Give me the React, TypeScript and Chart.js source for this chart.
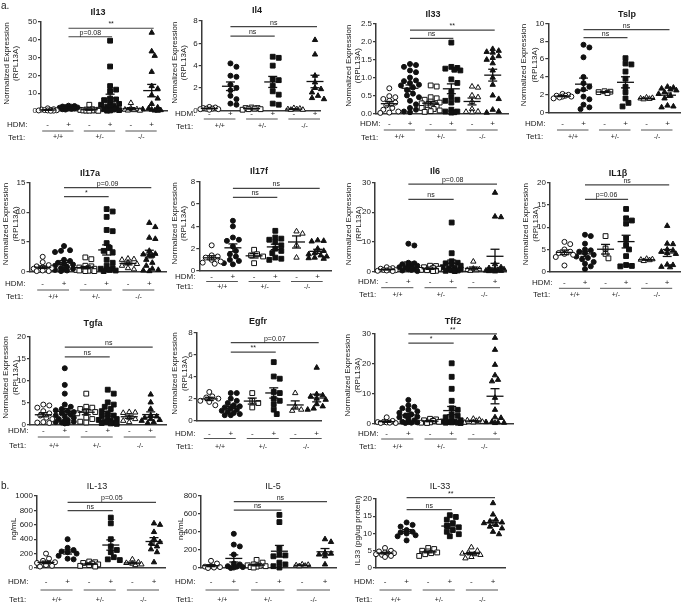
import React, { useEffect, useRef } from 'react';
import { Chart, registerables } from 'chart.js';

Chart.register(...registerables);

const FONT = '"Liberation Sans", Arial, Helvetica, sans-serif';

const HDM_LABELS = ['-', '+', '-', '+', '-', '+'];
const TET1_LABELS = ['+/+', '+/-', '-/-'];
const MARKERS = ['circle', 'circle', 'rect', 'rect', 'triangle', 'triangle'];
const FILLED = [false, true, false, true, false, true];
const NORM_LABEL = ['Normalized Expression', '(RPL13A)'];

// ---------- values per group: [+/+ -, +/+ +, +/- -, +/- +, -/- -, -/- +] ----------
const IL13_VALUES = [
  [1.5, 1.0, 0.8, 0.6, 0.5, 0.4, 0.3, 0.3, 0.2, 0.1],
  [3.0, 2.8, 2.5, 2.4, 2.2, 2.0, 1.8, 1.6, 1.5, 1.2, 1.0, 0.8],
  [3.5, 1.0, 0.8, 0.7, 0.6, 0.5, 0.4, 0.3, 0.3, 0.2, 0.2, 0.1],
  [39.5, 25, 14, 12, 11, 7, 6.5, 6, 5, 4, 3.5, 3, 2.5, 2, 1.5, 1, 0.8, 0.5, 0.3, 0.2],
  [4.5, 1.5, 1.0, 0.8, 0.5, 0.3, 0.2],
  [44, 33.5, 31, 22, 14, 12.5, 9, 7, 4, 2, 1.5, 1, 0.8, 0.5, 0.3, 0.2],
];
const IL4_VALUES = [
  [0.3, 0.25, 0.2, 0.15, 0.15, 0.1, 0.1, 0.05],
  [4.2, 3.9, 3.1, 3.0, 2.3, 2.0, 1.8, 1.3, 1.0, 0.6, 0.5],
  [0.25, 0.2, 0.2, 0.15, 0.1, 0.1, 0.05],
  [4.8, 4.7, 4.0, 2.8, 2.7, 2.2, 1.7, 1.4, 0.6, 0.5],
  [0.2, 0.15, 0.1, 0.1, 0.05, 0.05],
  [6.3, 5.0, 3.1, 2.5, 2.0, 1.9, 1.6, 1.3, 1.1, 1.0],
];
const IL33_VALUES = [
  [0.7, 0.48, 0.45, 0.4, 0.35, 0.3, 0.22, 0.15, 0.1, 0.05, 0.02, 0.01],
  [1.38, 1.35, 1.3, 1.2, 1.15, 1.0, 0.92, 0.9, 0.85, 0.8, 0.78, 0.72, 0.65, 0.55, 0.5, 0.45, 0.35, 0.25, 0.15, 0.1, 0.05, 0.03],
  [0.78, 0.75, 0.45, 0.42, 0.38, 0.33, 0.3, 0.28, 0.25, 0.22, 0.2, 0.18, 0.15, 0.12, 0.1, 0.08, 0.06, 0.04],
  [1.98, 1.3, 1.27, 1.25, 1.22, 1.2, 0.95, 0.85, 0.6, 0.45, 0.38, 0.35, 0.3, 0.1, 0.05, 0.05, 0.03, 0.02],
  [0.75, 0.72, 0.5, 0.45, 0.32, 0.12, 0.05, 0.04, 0.03],
  [1.8, 1.75, 1.72, 1.7, 1.6, 1.55, 1.5, 1.4, 1.2, 1.0, 0.8, 0.5, 0.4, 0.1, 0.05, 0.02],
];
const TSLP_VALUES = [
  [2.1, 2.0, 1.9, 1.9, 1.8, 1.8, 1.7, 1.6],
  [7.6, 7.3, 6.2, 4.0, 3.3, 2.9, 2.6, 2.4, 1.8, 1.5, 0.9, 0.6, 0.4],
  [2.4, 2.35, 2.3, 2.2],
  [6.1, 5.5, 5.4, 4.6, 3.8, 2.9, 2.3, 1.6, 1.1, 0.7],
  [1.7, 1.65, 1.6, 1.55, 1.5],
  [2.9, 2.8, 2.7, 2.6, 2.5, 2.3, 2.1, 1.9, 1.6, 0.8, 0.7, 0.6],
];
const IL17A_VALUES = [
  [2.5, 1.6, 1.1, 0.9, 0.7, 0.6, 0.5, 0.4, 0.3, 0.2, 0.1, 0.1],
  [4.3, 3.6, 3.5, 3.3, 2.0, 1.8, 1.5, 1.3, 1.2, 1.0, 0.8, 0.6, 0.5, 0.4, 0.3, 0.2, 0.1],
  [2.4, 2.1, 1.0, 0.9, 0.7, 0.6, 0.5, 0.45, 0.4, 0.3, 0.25, 0.2, 0.15, 0.1, 0.1],
  [10.5, 10.1, 9.2, 7.0, 6.8, 4.8, 4.0, 3.5, 3.2, 2.0, 1.5, 1.0, 0.6, 0.5, 0.4, 0.3, 0.2, 0.1],
  [2.2, 2.1, 2.0, 1.5, 1.3, 1.0, 0.6, 0.4],
  [8.2, 7.5, 5.7, 5.5, 3.5, 3.0, 2.9, 2.8, 2.7, 2.0, 1.5, 1.0, 0.5, 0.3, 0.2, 0.1],
];
const IL17F_VALUES = [
  [2.3, 1.4, 1.3, 1.2, 1.0, 0.85, 0.75, 0.65],
  [4.5, 4.0, 3.0, 2.8, 2.7, 2.2, 1.8, 1.5, 1.3, 1.0, 0.9, 0.7, 0.6],
  [1.9, 1.5, 1.4, 1.3, 0.7],
  [3.6, 3.0, 2.9, 2.8, 2.6, 2.3, 2.0, 1.8, 1.6, 1.2, 1.1, 1.0],
  [3.55, 3.35, 2.3, 1.2],
  [2.75, 2.7, 2.65, 2.0, 1.8, 1.6, 1.5, 1.4, 1.3, 1.2, 1.15, 1.1],
];
const IL6_VALUES = [
  [1.5, 1.2, 1.0, 0.8, 0.6, 0.5, 0.4, 0.3, 0.2],
  [9.4, 8.8, 3.0, 2.8, 2.5, 2.2, 2.0, 1.8, 1.5, 1.2, 1.0, 0.8, 0.6, 0.4, 0.2],
  [2.0, 1.9, 1.5, 1.2, 1.0, 0.8, 0.6, 0.5, 0.3, 0.2],
  [16.5, 6.2, 3.5, 3.0, 2.8, 2.5, 2.0, 1.5, 1.2, 1.0, 0.8, 0.5, 0.4, 0.3, 0.2],
  [3.4, 1.0, 0.8, 0.6, 0.5, 0.3],
  [26.5, 18.5, 18.3, 2.5, 1.5, 1.2, 1.0, 0.8, 0.6, 0.5, 0.4, 0.3, 0.2, 0.1],
];
const IL1B_VALUES = [
  [6.7, 6.2, 5.0, 4.5, 4.2, 4.0, 3.8, 3.3, 1.4],
  [8.3, 8.0, 6.3, 5.0, 4.8, 4.5, 4.2, 3.8, 3.4, 3.1, 2.8, 2.2, 1.8, 1.2, 0.6],
  [8.0, 5.2, 4.0, 3.0],
  [14.1, 12.0, 11.5, 10.8, 7.5, 6.0, 5.0, 3.5, 1.5, 1.3, 1.2],
  [2.9, 2.8, 2.7, 2.6, 2.4],
  [10.3, 6.3, 6.2, 5.0, 4.8, 4.5, 4.2, 4.0, 1.6, 1.5, 1.1, 1.0],
];
const TGFA_VALUES = [
  [4.5, 4.3, 3.8, 3.0, 2.5, 2.0, 1.5, 1.2, 0.5, 0.4, 0.3],
  [12.8, 9.0, 7.0, 4.5, 4.0, 3.5, 3.2, 3.0, 2.8, 2.5, 2.2, 2.0, 1.8, 1.5, 1.2, 1.0, 0.8, 0.6, 0.5, 0.4, 0.3, 0.2],
  [7.0, 4.0, 3.8, 3.5, 3.0, 2.8, 2.5, 1.5, 1.2, 0.6, 0.4],
  [7.9, 7.0, 5.0, 4.5, 4.0, 3.5, 3.0, 2.5, 2.0, 1.8, 1.5, 1.2, 1.0, 0.8, 0.6, 0.5, 0.3, 0.3, 0.2, 0.1],
  [2.8, 2.7, 2.6, 1.5, 1.2, 0.8, 0.5],
  [6.8, 5.0, 3.5, 2.0, 1.8, 1.5, 1.2, 1.0, 0.8, 0.5, 0.3],
];
const EGFR_VALUES = [
  [2.6, 2.2, 2.1, 2.0, 1.8, 1.7, 1.4],
  [2.5, 2.5, 2.0, 1.8, 1.6, 1.4, 1.3, 1.2, 1.1, 1.0, 0.9, 0.8, 0.7, 0.6, 0.5, 0.5],
  [2.5, 1.8, 1.6, 1.2],
  [5.3, 4.0, 3.8, 2.6, 2.5, 2.0, 1.8, 1.5, 1.0, 0.6],
  [2.5, 1.3, 1.0, 0.9],
  [4.8, 2.4, 2.3, 2.2, 2.0, 1.9, 1.5, 1.3, 1.1, 1.0],
];
const TFF2_VALUES = [
  [2.0, 0.8, 0.5, 0.4, 0.3, 0.2, 0.1, 0.1],
  [7.8, 6.0, 5.5, 5.0, 4.5, 4.0, 3.5, 3.0, 2.5, 2.2, 2.0, 1.5, 1.0, 0.5, 0.4, 0.3, 0.2, 0.1],
  [1.5, 1.3, 1.0, 0.8, 0.5, 0.3, 0.2, 0.1],
  [20, 15.5, 11.5, 7.5, 5.0, 4.5, 3.0, 2.5, 2.0, 1.5, 1.0, 0.6, 0.5, 0.4, 0.3, 0.2, 0.2, 0.1],
  [1.5, 1.2, 1.0, 0.8, 0.5, 0.3, 0.2],
  [28.5, 24.5, 19.5, 16, 14.5, 14, 8.5, 4.5, 2.0, 1.8, 0.5, 0.4, 0.3, 0.2, 0.1],
];
const PROT_IL13_VALUES = [
  [200, 130, 100, 80, 70, 60, 50, 40, 30, 20],
  [400, 280, 250, 230, 220, 200, 170, 130, 120],
  [90, 80, 70, 60, 50, 40, 30, 20],
  [700, 620, 400, 300, 250, 220, 150, 120, 110],
  [120, 80, 70, 60, 50, 40],
  [620, 600, 500, 400, 360, 340, 300, 260, 220, 80],
];
const PROT_IL5_VALUES = [
  [80, 50, 20, 15, 10, 5, 0],
  [380, 260, 240, 150, 50, 40, 20, 15, 10, 5, 0],
  [90, 60, 40, 30, 25, 20, 15, 10, 5],
  [590, 510, 220, 150, 140, 130, 60, 40, 20, 5],
  [40, 35, 30, 25, 20],
  [320, 290, 170, 160, 150, 130, 40],
];
const PROT_IL33_VALUES = [
  [5.8, 5.0, 4.8, 4.5, 4.3, 4.2, 4.0, 3.8, 3.5, 3.2],
  [13.2, 12.5, 12.0, 11.0, 10.5, 10.3, 10.0, 9.5, 9.2, 8.0],
  [5.8, 5.5, 5.0, 4.8, 4.5, 4.3, 4.0, 3.5],
  [15.3, 14.8, 14.0, 13.0, 12.2, 11.8, 11.0, 10.5, 9.8, 9.2],
  [6.0, 5.0, 4.5, 4.2, 4.0, 3.8, 3.2, 2.8],
  [18.8, 15.5, 14.0, 13.5, 13.2, 13.0, 12.5, 12.0, 11.5, 10.5, 9.8],
];

// ---------- significance brackets: [fromGroup, toGroup, value, label] ----------
const IL13_SIG = [[1, 3, 41.7, 'p=0.08'], [1, 5, 46.5, '**']];
const IL4_SIG = [[1, 3, 6.65, 'ns'], [1, 5, 7.5, 'ns']];
const IL33_SIG = [[1, 3, 2.1, 'ns'], [1, 5, 2.33, '**']];
const TSLP_SIG = [[1, 3, 8.4, 'ns'], [1, 5, 9.3, 'ns']];
const IL17A_SIG = [[1, 3, 12.6, '*'], [1, 5, 14.1, 'p=0.09']];
const IL17F_SIG = [[1, 3, 6.6, 'ns'], [1, 5, 7.4, 'ns']];
const IL6_SIG = [[1, 3, 24.3, 'ns'], [1, 5, 29.4, 'p=0.08']];
const IL1B_SIG = [[1, 3, 16.25, 'p=0.06'], [1, 5, 19.5, 'ns']];
const TGFA_SIG = [[1, 3, 15.4, 'ns'], [1, 5, 17.6, 'ns']];
const EGFR_SIG = [[1, 3, 6.2, '**'], [1, 5, 7.07, 'p=0.07']];
const TFF2_SIG = [[1, 3, 26.7, '*'], [1, 5, 29.8, '**']];
const PROT_IL13_SIG = [[1, 3, 798, 'ns'], [1, 5, 912, 'p=0.05']];
const PROT_IL5_SIG = [[1, 3, 642, 'ns'], [1, 5, 737, 'ns']];
const PROT_IL33_SIG = [[1, 3, 16.9, 'ns'], [1, 5, 20.4, '**']];

// ---------- panel layout (page pixels) ----------
const PANELS = [
  { title: 'Il13', bold: true, data: IL13_VALUES, sig: IL13_SIG, yMax: 50, step: 10, dec: 0, ylabel: NORM_LABEL,
    titleX: 98, titleY: 13, axisX: 41, axisEnd: 167, yTop: 22, yZero: 111, g0: 47.7, g5: 151.7, ylx: [6.7, 15.5], hdmX: 7, hdmY: 125, lineY: 131, tetY: 137.5 },
  { title: 'Il4', bold: true, data: IL4_VALUES, sig: IL4_SIG, yMax: 8, step: 2, dec: 0, ylabel: NORM_LABEL,
    titleX: 257, titleY: 11, axisX: 201.7, axisEnd: 321, yTop: 21, yZero: 110.3, g0: 209.3, g5: 315, ylx: [175, 183.3], hdmX: 175, hdmY: 114, lineY: 119, tetY: 126.5 },
  { title: 'Il33', bold: true, data: IL33_VALUES, sig: IL33_SIG, yMax: 2.5, step: 0.5, dec: 1, ylabel: NORM_LABEL,
    titleX: 433, titleY: 15, axisX: 376, axisEnd: 508, yTop: 24, yZero: 113.3, g0: 389.3, g5: 492.7, ylx: [349, 358], hdmX: 360, hdmY: 124, lineY: 130, tetY: 137.5 },
  { title: 'Tslp', bold: true, data: TSLP_VALUES, sig: TSLP_SIG, yMax: 10, step: 2, dec: 0, ylabel: NORM_LABEL,
    titleX: 627, titleY: 15, axisX: 548.3, axisEnd: 682, yTop: 23.3, yZero: 112.7, g0: 562.7, g5: 669.3, ylx: [524, 534.5], hdmX: 525, hdmY: 123.3, lineY: 130, tetY: 136.7 },

  { title: 'Il17a', bold: true, data: IL17A_VALUES, sig: IL17A_SIG, yMax: 15, step: 5, dec: 0, ylabel: NORM_LABEL,
    titleX: 90, titleY: 173.3, axisX: 29.5, axisEnd: 166, yTop: 182.3, yZero: 271.7, g0: 42.7, g5: 149.3, ylx: [6, 15.5], hdmX: 5, hdmY: 283.3, lineY: 290, tetY: 296.7 },
  { title: 'Il17f', bold: true, data: IL17F_VALUES, sig: IL17F_SIG, yMax: 8, step: 2, dec: 0, ylabel: NORM_LABEL,
    titleX: 259, titleY: 171.7, axisX: 199.3, axisEnd: 331.7, yTop: 181.7, yZero: 271, g0: 211.7, g5: 317.7, ylx: [175, 184], hdmX: 175, hdmY: 277, lineY: 281.5, tetY: 287 },
  { title: 'Il6', bold: true, data: IL6_VALUES, sig: IL6_SIG, yMax: 30, step: 10, dec: 0, ylabel: NORM_LABEL,
    titleX: 435, titleY: 171.7, axisX: 375, axisEnd: 506.7, yTop: 182.3, yZero: 271.7, g0: 386.7, g5: 495, ylx: [349, 358.5], hdmX: 358, hdmY: 281.7, lineY: 287.7, tetY: 295 },
  { title: 'IL1\u03b2', bold: true, data: IL1B_VALUES, sig: IL1B_SIG, yMax: 20, step: 5, dec: 0, ylabel: NORM_LABEL,
    titleX: 618, titleY: 173.3, axisX: 550, axisEnd: 685, yTop: 182.7, yZero: 271.7, g0: 565, g5: 671.7, ylx: [526, 535.5], hdmX: 532, hdmY: 282.7, lineY: 288.3, tetY: 295 },

  { title: 'Tgfa', bold: true, data: TGFA_VALUES, sig: TGFA_SIG, yMax: 20, step: 5, dec: 0, ylabel: NORM_LABEL,
    titleX: 93, titleY: 323.3, axisX: 30, axisEnd: 166.7, yTop: 336.7, yZero: 424.3, g0: 43.3, g5: 150.7, ylx: [6, 15.5], hdmX: 8, hdmY: 430.5, lineY: 437, tetY: 446 },
  { title: 'Egfr', bold: true, data: EGFR_VALUES, sig: EGFR_SIG, yMax: 8, step: 2, dec: 0, ylabel: NORM_LABEL,
    titleX: 258, titleY: 322, axisX: 196.7, axisEnd: 321.7, yTop: 332.3, yZero: 420.7, g0: 209.3, g5: 316.7, ylx: [175, 184.5], hdmX: 175, hdmY: 433.3, lineY: 438.5, tetY: 446.7 },
  { title: 'Tff2', bold: true, data: TFF2_VALUES, sig: TFF2_SIG, yMax: 30, step: 10, dec: 0, ylabel: NORM_LABEL,
    titleX: 453, titleY: 322, axisX: 375, axisEnd: 513, yTop: 333.3, yZero: 423.3, g0: 386.7, g5: 495, ylx: [348, 357.5], hdmX: 358, hdmY: 433.3, lineY: 439, tetY: 446.7 },

  { title: 'IL-13', bold: false, data: PROT_IL13_VALUES, sig: PROT_IL13_SIG, yMax: 1000, step: 200, dec: 0, ylabel: ['ng/mL'],
    titleX: 97, titleY: 487, axisX: 37, axisEnd: 165, yTop: 496, yZero: 568, g0: 46, g5: 154, ylx: [14], hdmX: 8, hdmY: 582, lineY: 590, tetY: 600 },
  { title: 'IL-5', bold: false, data: PROT_IL5_VALUES, sig: PROT_IL5_SIG, yMax: 800, step: 200, dec: 0, ylabel: ['ng/mL'],
    titleX: 273, titleY: 487, axisX: 201, axisEnd: 336, yTop: 496, yZero: 568, g0: 211, g5: 325, ylx: [181], hdmX: 175, hdmY: 582, lineY: 590, tetY: 600 },
  { title: 'IL-33', bold: false, data: PROT_IL33_VALUES, sig: PROT_IL33_SIG, yMax: 20, step: 5, dec: 0, ylabel: ['IL33 (pg/ug protein)'],
    titleX: 440, titleY: 487, axisX: 376, axisEnd: 505, yTop: 499, yZero: 568, g0: 385, g5: 493, ylx: [358], hdmX: 354, hdmY: 582, lineY: 590, tetY: 600 },
];

const W = 685;
const H = 608;
const YW = 25;

// beeswarm-like horizontal spreading (layout only)
function swarm(vals, gi, pyPerUnit, pxPerUnitX, diam) {
  const order = vals.map((_, i) => i).sort((a, b) => vals[b] - vals[a]);
  const placed = [];
  const out = new Array(vals.length);
  const step = 3;
  for (const i of order) {
    const py = vals[i] * pyPerUnit;
    let best = 0;
    let bestScore = -1;
    for (let k = 0; k < 7; k++) {
      const off = (k % 2 === 1 ? 1 : -1) * Math.ceil(k / 2) * step;
      let minD = Infinity;
      for (const p of placed) {
        const dd = Math.hypot(p.x - off, p.y - py);
        if (dd < minD) minD = dd;
      }
      if (minD >= diam) { best = off; bestScore = Infinity; break; }
      if (minD > bestScore + 0.5) { bestScore = minD; best = off; }
    }
    placed.push({ x: best, y: py });
    out[i] = { x: gi + best / pxPerUnitX, y: vals[i] };
  }
  return out;
}

function stats(vals) {
  const n = vals.length;
  const m = vals.reduce((a, b) => a + b, 0) / n;
  const sd = Math.sqrt(vals.reduce((a, b) => a + (b - m) * (b - m), 0) / (n - 1));
  return { mean: m, sem: sd / Math.sqrt(n) };
}

function line(ctx, x1, y1, x2, y2) {
  ctx.beginPath();
  ctx.moveTo(x1, y1);
  ctx.lineTo(x2, y2);
  ctx.stroke();
}

function Panel({ p }) {
  const ref = useRef(null);
  useEffect(() => {
    const pyPerUnit = (p.yZero - p.yTop) / p.yMax;
    const d = (p.g5 - p.g0) / 5;
    const xMin = -(p.g0 - p.axisX) / d;
    const xMax = 5 + (p.axisEnd - p.g5) / d;
    const radii = [2.5, 2.5, 3.4, 3.4, 3.1, 3.1];

    const datasets = p.data.map((vals, gi) => ({
      type: 'scatter',
      data: swarm(vals, gi, pyPerUnit, d, 5.2),
      pointStyle: MARKERS[gi],
      pointRadius: radii[gi],
      backgroundColor: FILLED[gi] ? '#111' : '#fff',
      borderColor: '#111',
      borderWidth: 1,
      clip: false,
    }));

    const extras = {
      id: 'extras',
      afterDatasetsDraw(chart) {
        const ctx = chart.ctx;
        const xs = chart.scales.x;
        const ys = chart.scales.y;
        ctx.save();
        ctx.strokeStyle = '#111';
        ctx.lineWidth = 1.3;
        p.data.forEach((vals, gi) => {
          const s = stats(vals);
          const x = xs.getPixelForValue(gi);
          const ym = ys.getPixelForValue(s.mean);
          const yt = ys.getPixelForValue(s.mean + s.sem);
          const yb = ys.getPixelForValue(Math.max(0, s.mean - s.sem));
          line(ctx, x - 8.5, ym, x + 8.5, ym);
          line(ctx, x, yt, x, yb);
          line(ctx, x - 4.5, yt, x + 4.5, yt);
          line(ctx, x - 4.5, yb, x + 4.5, yb);
        });
        ctx.restore();
      },
      afterDraw(chart) {
        const ctx = chart.ctx;
        const xs = chart.scales.x;
        const ys = chart.scales.y;
        ctx.save();
        ctx.fillStyle = '#1a1a1a';
        // title
        ctx.font = (p.bold ? 'bold ' : '') + '9px ' + FONT;
        ctx.textAlign = 'center';
        ctx.textBaseline = 'middle';
        ctx.fillText(p.title, p.titleX, p.titleY);
        // y label
        ctx.font = '8px ' + FONT;
        const cy = (p.yTop + p.yZero) / 2 - 3;
        p.ylabel.forEach((t, i) => {
          ctx.save();
          ctx.translate(p.ylx[i], cy);
          ctx.rotate(-Math.PI / 2);
          ctx.fillText(t, 0, 0);
          ctx.restore();
        });
        // HDM / Tet1 rows
        ctx.textAlign = 'left';
        ctx.font = '8px ' + FONT;
        ctx.fillText('HDM:', p.hdmX, p.hdmY);
        ctx.fillText('Tet1:', p.hdmX + 1, p.tetY);
        ctx.textAlign = 'center';
        HDM_LABELS.forEach((t, gi) => {
          ctx.fillText(t, xs.getPixelForValue(gi), p.hdmY);
        });
        ctx.strokeStyle = '#555';
        ctx.lineWidth = 1;
        ctx.font = '7px ' + FONT;
        TET1_LABELS.forEach((t, k) => {
          const xa = xs.getPixelForValue(2 * k);
          const xb = xs.getPixelForValue(2 * k + 1);
          line(ctx, xa - 5.5, p.lineY, xb + 5, p.lineY);
          ctx.fillText(t, (xa + xb) / 2, p.tetY);
        });
        // significance brackets
        ctx.strokeStyle = '#444';
        ctx.lineWidth = 1.2;
        ctx.textBaseline = 'alphabetic';
        p.sig.forEach((s) => {
          const xa = xs.getPixelForValue(s[0]);
          const xb = xs.getPixelForValue(s[1]) + 2;
          const y = ys.getPixelForValue(s[2]);
          line(ctx, xa, y, xb, y);
          ctx.fillText(s[3], (xa + xb) / 2, y - 2);
        });
        ctx.restore();
      },
    };

    const chart = new Chart(ref.current, {
      type: 'scatter',
      data: { datasets },
      options: {
        responsive: false,
        maintainAspectRatio: false,
        animation: false,
        events: [],
        layout: { padding: { left: p.axisX - YW, top: p.yTop, right: W - p.axisEnd, bottom: H - p.yZero } },
        plugins: { legend: { display: false }, tooltip: { enabled: false }, title: { display: false } },
        scales: {
          x: {
            type: 'linear', min: xMin, max: xMax,
            ticks: { display: false },
            grid: { display: false, drawTicks: false },
            border: { display: true, color: '#3a3a3a', width: 1.5 },
            afterFit: (s) => { s.height = 0; },
          },
          y: {
            type: 'linear', min: 0, max: p.yMax,
            ticks: {
              stepSize: p.step, padding: 1, color: '#1a1a1a',
              font: { size: 8, family: FONT },
              callback: (v) => Number(v).toFixed(p.dec),
            },
            grid: { display: true, drawOnChartArea: false, drawTicks: true, tickLength: 3, color: '#3a3a3a', lineWidth: 1.2 },
            border: { display: true, color: '#3a3a3a', width: 1.5 },
            afterFit: (s) => { s.width = YW; },
          },
        },
      },
      plugins: [extras],
    });
    return () => chart.destroy();
  }, [p]);
  return (
    <canvas ref={ref} width={W} height={H}
      style={{ position: 'absolute', left: 0, top: 0, width: W, height: H }} />
  );
}

export default function App() {
  return (
    <div style={{ position: 'absolute', left: 0, top: 0, width: W, height: H, background: '#fff', overflow: 'hidden' }}>
      {PANELS.map((p, i) => <Panel key={i} p={p} />)}
      <div style={{ position: 'absolute', left: 1, top: 0, font: '10px ' + FONT, color: '#1a1a1a' }}>a.</div>
      <div style={{ position: 'absolute', left: 1, top: 480, font: '10px ' + FONT, color: '#1a1a1a' }}>b.</div>
    </div>
  );
}
